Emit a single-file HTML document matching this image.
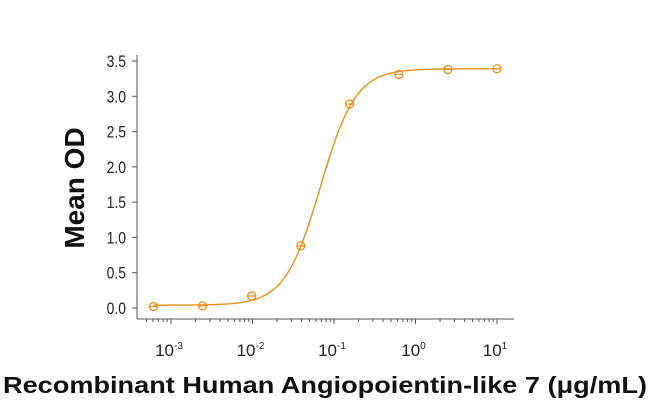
<!DOCTYPE html>
<html><head><meta charset="utf-8"><style>
html,body{margin:0;padding:0;background:#fff;}
svg{display:block;font-family:"Liberation Sans",sans-serif;}
</style></head><body>
<svg id="chart" width="650" height="407" viewBox="0 0 650 407" xmlns="http://www.w3.org/2000/svg">
<g id="axes"></g>
<g id="marks"></g>
<text transform="translate(84,188) rotate(-90)" text-anchor="middle" font-weight="bold" font-size="28" fill="#111">Mean OD</text>
<text x="325" y="393" text-anchor="middle" font-weight="bold" font-size="23" fill="#111" textLength="644" lengthAdjust="spacingAndGlyphs">Recombinant Human Angiopoientin-like 7 (μg/mL)</text>
</svg>
<script>
const concentrations = [0.00061, 0.00244, 0.00977, 0.0391, 0.156, 0.625, 2.5, 10];
const meanOD = [0.02, 0.03, 0.17, 0.88, 2.89, 3.31, 3.38, 3.39];
const fitParams = [0.04, 3.39, 0.068, 2.0]; // bottom, top, EC50, hill
const yTicks = [0, 0.5, 1.0, 1.5, 2.0, 2.5, 3.0, 3.5];
const xDecades = [-3, -2, -1, 0, 1];

const NS = "http://www.w3.org/2000/svg";
const COLOR = "#e8901c";
function xs(v){ return 171 + (Math.log10(v) + 3) * 81.5; }
function ys(v){ return 308 - v * (247 / 3.5); }
function mk(tag, attrs, parent){ const e=document.createElementNS(NS,tag); for(const k in attrs) e.setAttribute(k,attrs[k]); parent.appendChild(e); return e; }
const axes=document.getElementById('axes'), marks=document.getElementById('marks');

const yl=mk('line',{x1:137,y1:55,x2:137,y2:319,stroke:'#555','stroke-width':1},axes);


const xl=mk('line',{x1:137,y1:319,x2:514,y2:319,stroke:'#555','stroke-width':1},axes);



yTicks.forEach(t=>{
  const y=ys(t);
  const tk=mk('line',{x1:132,y1:y,x2:137,y2:y,stroke:'#555'},axes);
  
  
  const lb=mk('text',{x:126,y:y+6,'text-anchor':'end','font-size':17,fill:'#222',transform:`translate(126,0) scale(0.82,1) translate(-126,0)`},axes);
  lb.textContent=t.toFixed(1);
  
  
});
for(let d=-4; d<=1; d++){
  for(let m=1;m<10;m++){
    const v=m*Math.pow(10,d), x=xs(v);
    if(x<140||x>512) continue;
    const tk=mk('line',{x1:x,y1:319,x2:x,y2:m===1?324:322,stroke:'#555'},axes);
    
    
  }
}
xDecades.forEach(d=>{
  const x=xs(Math.pow(10,d));
  const lb=mk('text',{x:x-2,y:356,'text-anchor':'middle','font-size':17,fill:'#222'},axes);
  
  
  const b=mk('tspan',{},lb); b.textContent='10';
  const s=mk('tspan',{dy:-7,'font-size':10},lb); s.textContent=String(d);
});

const [B,T,E,H]=fitParams;
let dstr='';
for(let i=0;i<=200;i++){
  const lv=Math.log10(concentrations[0])+i*(Math.log10(concentrations[concentrations.length-1])-Math.log10(concentrations[0]))/200;
  const v=Math.pow(10,lv);
  const y=B+(T-B)/(1+Math.pow(E/v,H));
  dstr+=(i?'L':'M')+xs(v).toFixed(2)+','+ys(y).toFixed(2);
}
const curve=mk('path',{d:dstr,fill:'none',stroke:COLOR,'stroke-width':1.4},marks);


concentrations.forEach((c,i)=>{
  const x=xs(c), y=ys(meanOD[i]);
  const g=mk('g',{},marks);
  
  
  mk('circle',{cx:x,cy:y,r:4,fill:'none',stroke:COLOR,'stroke-width':1.3},g);
  mk('line',{x1:x-4,y1:y,x2:x+4,y2:y,stroke:COLOR,'stroke-width':1.2},g);
});
</script>
</body></html>
